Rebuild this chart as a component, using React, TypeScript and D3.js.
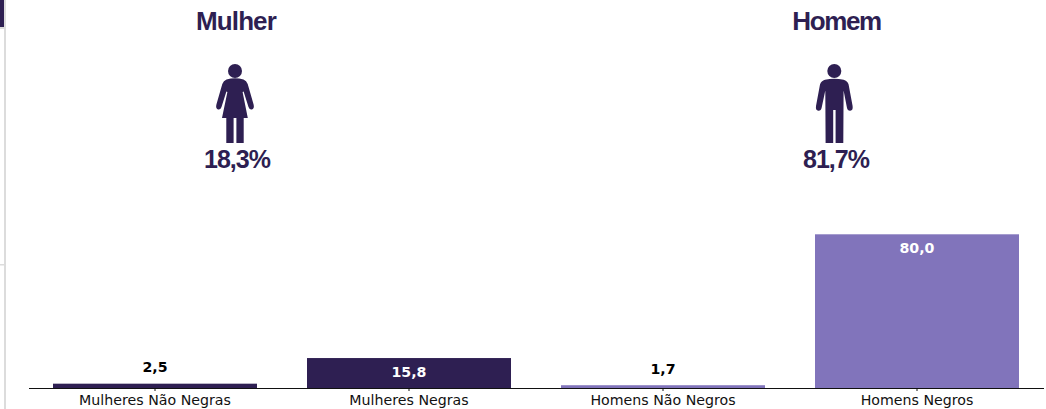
import React from "react";
import * as d3 from "d3";

const categories = ["Mulheres Não Negras", "Mulheres Negras", "Homens Não Negros", "Homens Negros"];
const values = [2.5, 15.8, 1.7, 80.0];
const valueLabels = ["2,5", "15,8", "1,7", "80,0"];
const barColors = ["#2e1f52", "#2e1f52", "#8174bb", "#8174bb"];
const groups = ["Mulher", "Homem"];
const groupShares = ["18,3%", "81,7%"];

const W = 1046, H = 409;
const DARK = "#2e1f52";

const x = d3.scaleBand<string>().domain(categories).range([28, 1044]).paddingInner(50 / 254).paddingOuter(25 / 254);
const y = d3.scaleLinear().domain([0, 80]).range([388.5, 234.3]);

const WOMAN = "M226.5 79.5 Q235 77 243.5 79.5 Q246.5 80.5 247.7 84 L253.6 104.5 Q254.6 108.5 252 109.4 Q249.6 110 248.5 107 L243.6 91.5 L242.6 92 L247.8 118 L243.7 118 L243.7 143 L236.4 143 L236.4 118 L233.6 118 L233.6 143 L226.3 143 L226.3 118 L222 118 L227.4 92 L226.4 91.5 L221.5 107 Q220.4 110 218 109.4 Q215.4 108.5 216.4 104.5 L222.3 84 Q223.5 80.5 226.5 79.5 Z";
const MAN = "M825 79.7 Q834.3 77.6 843.6 79.7 Q847.4 80.6 848.6 84.5 L852.6 106 Q853.2 110.4 850.3 110.8 Q847.6 111 846.9 107.6 L843.6 90.5 L843.3 143 L835.6 143 L835.6 110 L833.2 110 L833.2 143 L825.6 143 L825.3 90.5 L821.7 107.6 Q821 111 818.3 110.8 Q815.4 110.4 816 106 L820 84.5 Q821.2 80.6 825 79.7 Z";

export default function App() {
  return (
    <svg width={W} height={H} viewBox={`0 0 ${W} ${H}`} style={{ position: "fixed", left: 0, top: 0, display: "block", background: "#fff" }}>
      <rect x={0} y={0} width={4} height={27} fill={DARK} />
      <rect x={0} y={27} width={4} height={2} fill="#dcdcdc" />
      <rect x={0} y={264} width={4} height={1.5} fill="#dcdcdc" />
      <rect x={4} y={0} width={2} height={H} fill="#dcdcdc" />

      <g fontFamily="'Liberation Sans', Arial, sans-serif" fontWeight={700} fill={DARK} textAnchor="middle">
        <text x={236} y={30} fontSize={26} letterSpacing={-0.9}>{groups[0]}</text>
        <text x={836.5} y={30} fontSize={26} letterSpacing={-1.4}>{groups[1]}</text>
        <text x={237} y={168} fontSize={25} letterSpacing={-1}>{groupShares[0]}</text>
        <text x={836} y={168} fontSize={25} letterSpacing={-1}>{groupShares[1]}</text>
      </g>

      <circle cx={235} cy={71} r={7} fill={DARK} />
      <path d={WOMAN} fill={DARK} />
      <circle cx={834.3} cy={71} r={7} fill={DARK} />
      <path d={MAN} fill={DARK} />

      {categories.map((c, i) => (
        <rect key={c} x={x(c)!} y={y(values[i])} width={x.bandwidth()} height={y(0) - y(values[i])} fill={barColors[i]} />
      ))}

      <line x1={29} x2={1044} y1={388.5} y2={388.5} stroke="#111" strokeWidth={1} />

      <g fontFamily="'DejaVu Sans', sans-serif" fontSize={14.2} textAnchor="middle">
        {categories.map((c, i) => {
          const cx = x(c)! + x.bandwidth() / 2;
          const big = values[i] > 10;
          return (
            <g key={c}>
              <line x1={cx} x2={cx} y1={388} y2={391} stroke="#111" strokeWidth={1} />
              <text x={cx} y={405} fill="#111">{c}</text>
              <text x={cx} y={big ? y(values[i]) + 18.5 : y(values[i]) - 11.5} fontWeight={700} fill={big ? "#fff" : "#000"}>{valueLabels[i]}</text>
            </g>
          );
        })}
      </g>
    </svg>
  );
}
